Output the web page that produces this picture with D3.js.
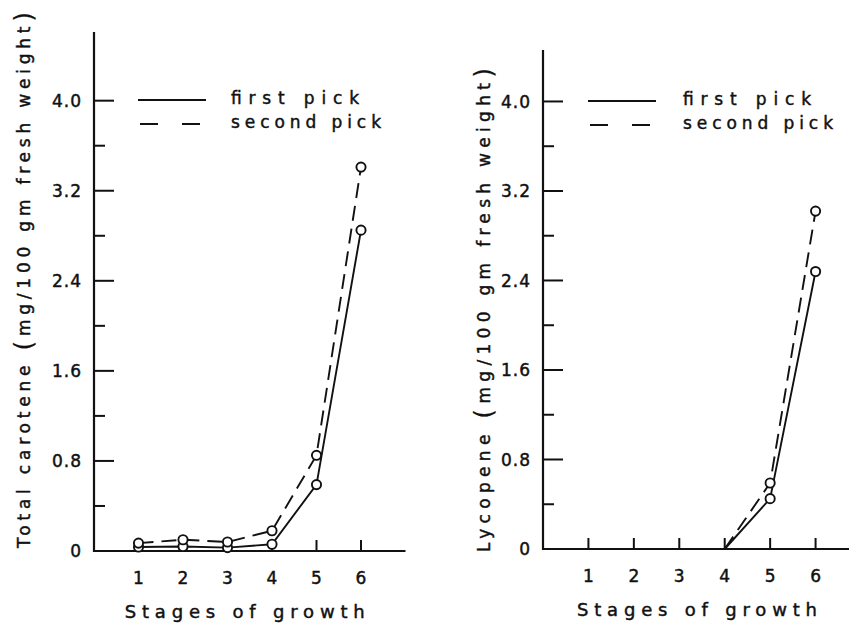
<!DOCTYPE html>
<html>
<head>
<meta charset="utf-8">
<script src="https://cdn.jsdelivr.net/npm/d3@7"></script>
<style>
  html, body { margin: 0; padding: 0; background: #fff; }
  svg { display: block; }
  text { font-family: 'DejaVu Sans', sans-serif; fill: #111; stroke: #111; stroke-width: 0.45px; }
</style>
</head>
<body>
<div id="container"></div>
<script>
// values
const stages = [1, 2, 3, 4, 5, 6]
const stageLabels = ['1', '2', '3', '4', '5', '6']
const caroteneFirst = [0.035, 0.04, 0.03, 0.06, 0.59, 2.85]
const caroteneSecond = [0.07, 0.10, 0.08, 0.18, 0.85, 3.41]
const lycopeneStages = [4, 5, 6]
const lycopeneFirst = [0, 0.45, 2.48]
const lycopeneSecond = [0, 0.59, 3.02]
const yMajor = [0, 0.8, 1.6, 2.4, 3.2, 4.0]
const yMinor = [0.4, 1.2, 2.0, 2.8, 3.6]
const seriesNames = ['first pick', 'second pick']

const w = 849
const h = 625

const svg = d3.select('#container')
  .append('svg')
  .attr('width', w)
  .attr('height', h)

const dash = '15,8'

function panel(opt) {
  const x = d3.scaleLinear().domain([0, 7]).range([opt.left, opt.right])
  const y = d3.scaleLinear().domain([0, opt.yMax]).range([opt.bottom, opt.top])
  const g = svg.append('g')

  // y axis line + ticks (ticks point inwards)
  g.append('line')
    .attr('x1', opt.left).attr('x2', opt.left)
    .attr('y1', y(0) + 1).attr('y2', y(opt.yMax))
    .attr('stroke', '#111').attr('stroke-width', 2.2)

  g.selectAll('.major').data(yMajor).enter().append('line')
    .attr('x1', opt.left).attr('x2', opt.left + 20)
    .attr('y1', d => y(d)).attr('y2', d => y(d))
    .attr('stroke', '#111').attr('stroke-width', 2)

  g.selectAll('.minor').data(yMinor).enter().append('line')
    .attr('x1', opt.left).attr('x2', opt.left + 11)
    .attr('y1', d => y(d)).attr('y2', d => y(d))
    .attr('stroke', '#111').attr('stroke-width', 2)

  g.selectAll('.ylab').data(yMajor).enter().append('text')
    .attr('x', opt.left - 12)
    .attr('y', d => y(d))
    .attr('dy', '0.36em')
    .attr('text-anchor', 'end')
    .style('font-size', '17px')
    .style('letter-spacing', '1px')
    .text(d => d === 0 ? '0' : d.toFixed(1))

  // x axis line + ticks (upwards)
  g.append('line')
    .attr('x1', opt.left).attr('x2', opt.right)
    .attr('y1', y(0)).attr('y2', y(0))
    .attr('stroke', '#111').attr('stroke-width', 2.2)

  g.selectAll('.xt').data(stages).enter().append('line')
    .attr('x1', d => x(d)).attr('x2', d => x(d))
    .attr('y1', y(0)).attr('y2', y(0) - 11)
    .attr('stroke', '#111').attr('stroke-width', 2)

  g.selectAll('.xlab').data(stages).enter().append('text')
    .attr('x', d => x(d))
    .attr('y', y(0) + 33)
    .attr('text-anchor', 'middle')
    .style('font-size', '17px')
    .text((d, i) => stageLabels[i])

  g.append('text')
    .attr('x', x(3.5) - 5)
    .attr('y', y(0) + 67)
    .attr('text-anchor', 'middle')
    .attr('textLength', 240)
    .attr('lengthAdjust', 'spacing')
    .style('font-size', '18px')
    .text('Stages of growth')

  // rotated y title with big brackets
  const yt = g.append('text')
    .attr('transform', 'translate(' + opt.titleX + ',' + opt.titleY + ') rotate(-90)')
    .attr('text-anchor', 'middle')
    .attr('textLength', opt.titleLen)
    .attr('lengthAdjust', 'spacing')
    .style('font-size', '17px')
  yt.append('tspan').text(opt.title + ' ')
  yt.append('tspan').style('font-size', '25px').style('stroke-width', '0.2px').attr('dy', 2).text('(')
  yt.append('tspan').attr('dy', -2).text('mg/100 gm fresh weight')
  yt.append('tspan').style('font-size', '25px').style('stroke-width', '0.2px').attr('dy', 2).text(')')

  // data lines
  const line = d3.line().x(d => x(d[0])).y(d => y(d[1]))
  const pts1 = opt.xs.map((s, i) => [s, opt.first[i]])
  const pts2 = opt.xs.map((s, i) => [s, opt.second[i]])

  g.append('path').datum(pts2)
    .attr('d', line).attr('fill', 'none')
    .attr('stroke', '#111').attr('stroke-width', 1.9)
    .attr('stroke-dasharray', dash)
  g.append('path').datum(pts1)
    .attr('d', line).attr('fill', 'none')
    .attr('stroke', '#111').attr('stroke-width', 1.9)

  const marks = pts1.concat(pts2).filter(d => d[1] > 0)
  g.selectAll('.pt').data(marks).enter().append('circle')
    .attr('cx', d => x(d[0])).attr('cy', d => y(d[1]))
    .attr('r', 4.6)
    .attr('fill', '#fff').attr('stroke', '#111').attr('stroke-width', 1.9)

  // legend
  const lg = g.append('g')
  lg.append('line')
    .attr('x1', opt.legX).attr('x2', opt.legX + 68)
    .attr('y1', opt.legY).attr('y2', opt.legY)
    .attr('stroke', '#111').attr('stroke-width', 2.2)
  lg.append('line')
    .attr('x1', opt.legX + 2).attr('x2', opt.legX + 68)
    .attr('y1', opt.legY + opt.legGap).attr('y2', opt.legY + opt.legGap)
    .attr('stroke', '#111').attr('stroke-width', 2.2)
    .attr('stroke-dasharray', '18,24')
  lg.selectAll('.lt').data(seriesNames).enter().append('text')
    .attr('x', opt.legX + opt.legText)
    .attr('y', (d, i) => opt.legY - 2 + i * opt.legGap)
    .attr('dy', '0.36em')
    .attr('textLength', (d, i) => i === 0 ? 128 : 150)
    .attr('lengthAdjust', 'spacing')
    .style('font-size', '17px')
    .text(d => d)
}

panel({
  left: 94, right: 405.5, top: 32, bottom: 551, yMax: 4.61,
  xs: stages, first: caroteneFirst, second: caroteneSecond,
  title: 'Total carotene', titleX: 30, titleY: 280, titleLen: 536,
  legX: 138, legY: 100, legGap: 24, legText: 93
})

panel({
  left: 543, right: 861, top: 50, bottom: 549, yMax: 4.46,
  xs: lycopeneStages, first: lycopeneFirst, second: lycopeneSecond,
  title: 'Lycopene', titleX: 490, titleY: 310, titleLen: 484,
  legX: 588, legY: 101, legGap: 24, legText: 95
})
</script>
</body>
</html>
